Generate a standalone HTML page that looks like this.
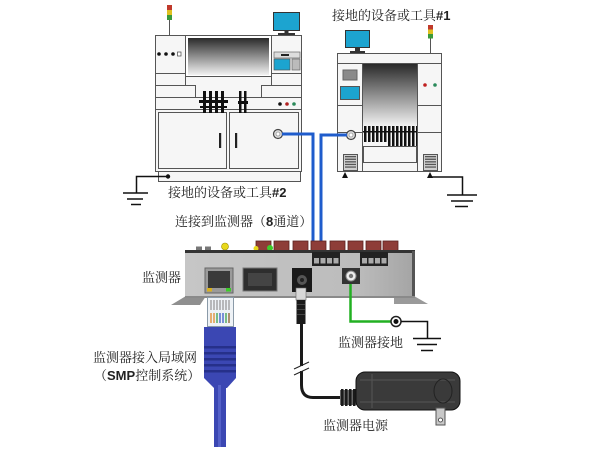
<!DOCTYPE html>
<html><head><meta charset="utf-8"><style>
html,body{margin:0;padding:0;background:#fff;}
svg{display:block;}
text{font-family:"Liberation Serif","Noto Serif CJK SC",serif;font-size:13px;fill:#222;}
.b{font-family:"Liberation Sans",sans-serif;font-weight:bold;}
</style></head><body>
<svg width="600" height="450" viewBox="0 0 600 450" xmlns="http://www.w3.org/2000/svg">
<defs>
<linearGradient id="win" x1="0" y1="0" x2="0" y2="1"><stop offset="0" stop-color="#2a2a2a"/><stop offset="1" stop-color="#f2f2f2"/></linearGradient>
<linearGradient id="bd" x1="0" y1="0" x2="1" y2="0"><stop offset="0" stop-color="#c6c6c6"/><stop offset="0.75" stop-color="#bcbcbc"/><stop offset="1" stop-color="#a4a4a4"/></linearGradient>
<pattern id="noz" width="4" height="10" patternUnits="userSpaceOnUse"><rect x="0" y="0" width="2.5" height="10" fill="#111"/></pattern>
<pattern id="vent" width="4" height="2.6" patternUnits="userSpaceOnUse"><rect width="4" height="1.3" fill="#555"/></pattern>
</defs>

<!-- ============ Machine #2 (left) ============ -->
<g stroke="#555" stroke-width="1" fill="#f6f6f6">
<line x1="169.5" y1="20" x2="169.5" y2="35"/>
<rect x="167" y="5" width="5" height="5" fill="#c0392b" stroke="none"/>
<rect x="167" y="10" width="5" height="5" fill="#e0c020" stroke="none"/>
<rect x="167" y="15" width="5" height="5" fill="#3a9a3a" stroke="none"/>
<rect x="273.5" y="12.5" width="26" height="18" fill="#1ca4d0" stroke="#333"/>
<rect x="284.5" y="31" width="4" height="3" fill="#333" stroke="none"/>
<rect x="278" y="33" width="17" height="2" fill="#333" stroke="none"/>

<rect x="155.5" y="35.5" width="146" height="62"/>
<rect x="155.5" y="35.5" width="30" height="38"/>
<rect x="271.5" y="35.5" width="30" height="38"/>
<rect x="185.5" y="35.5" width="86" height="41" fill="#fff"/>
<rect x="188" y="38" width="81" height="37" fill="url(#win)" stroke="none"/>
<path d="M185.5,76.5 V85.5 H195.5 V97.5 M271.5,76.5 V85.5 H261.5 V97.5" fill="none"/>
<line x1="155.5" y1="85.5" x2="185.5" y2="85.5"/>
<line x1="271.5" y1="85.5" x2="301.5" y2="85.5"/>
<circle cx="159" cy="54" r="1.8" fill="#111" stroke="none"/>
<circle cx="166" cy="54" r="1.8" fill="#111" stroke="none"/>
<circle cx="173" cy="54" r="1.8" fill="#111" stroke="none"/>
<rect x="177.5" y="52" width="3.5" height="4" fill="#fff" stroke="#444" stroke-width="0.7"/>
<rect x="274" y="52" width="26" height="6" fill="#ddd" stroke="#666" stroke-width="0.7"/>
<rect x="281" y="54" width="8" height="2" fill="#222" stroke="none"/>
<rect x="274" y="59" width="16" height="11" fill="#1ca4d0" stroke="#555" stroke-width="0.7"/>
<rect x="292" y="59" width="8" height="11" fill="#bbb" stroke="#666" stroke-width="0.7"/>

<rect x="155.5" y="97.5" width="146" height="12"/>
<circle cx="280" cy="104" r="1.8" fill="#111" stroke="none"/>
<circle cx="287" cy="104" r="1.8" fill="#b02020" stroke="none"/>
<circle cx="294" cy="104" r="1.8" fill="#2a8a5a" stroke="none"/>

<rect x="155.5" y="109.5" width="146" height="62"/>
<rect x="158.5" y="112.5" width="68" height="56"/>
<rect x="229.5" y="112.5" width="69" height="56"/>
<rect x="219" y="133" width="2.2" height="15" fill="#222" stroke="none"/>
<rect x="235" y="133" width="2.2" height="15" fill="#222" stroke="none"/>
<rect x="158.5" y="171.5" width="142" height="10"/>
<circle cx="168" cy="176.5" r="2.2" fill="#111" stroke="none"/>
</g>
<!-- heads -->
<g fill="#111">
<rect x="203" y="91" width="3" height="22"/><rect x="209" y="91" width="3" height="22"/>
<rect x="215" y="91" width="3" height="22"/><rect x="221" y="91" width="3" height="22"/>
<rect x="199" y="100" width="29" height="3"/><rect x="200" y="106" width="27" height="2"/>
<rect x="239" y="91" width="2.5" height="22"/><rect x="244" y="91" width="2.5" height="22"/>
<rect x="238" y="101" width="10" height="3"/>
</g>
<circle cx="278" cy="134" r="4.5" fill="#ddd" stroke="#444" stroke-width="1.2"/>
<circle cx="278" cy="134" r="2" fill="#fff" stroke="#777" stroke-width="0.6"/>
<!-- ground #2 -->
<g stroke="#111" stroke-width="1.5" fill="none">
<path d="M168,176.5 H136.5 V193"/>
<line x1="123" y1="193" x2="148" y2="193"/>
<line x1="127" y1="199" x2="143" y2="199"/>
<line x1="131" y1="204.5" x2="141" y2="204.5"/>
</g>

<!-- ============ Machine #1 (right) ============ -->
<g stroke="#555" stroke-width="1" fill="#f6f6f6">
<line x1="430.5" y1="38" x2="430.5" y2="53"/>
<rect x="428" y="25" width="5" height="4.5" fill="#c0392b" stroke="none"/>
<rect x="428" y="29.5" width="5" height="4.5" fill="#e0c020" stroke="none"/>
<rect x="428" y="34" width="5" height="4.5" fill="#3a9a3a" stroke="none"/>
<rect x="345.5" y="30.5" width="24" height="17" fill="#1ca4d0" stroke="#333"/>
<rect x="355" y="48" width="5" height="3" fill="#333" stroke="none"/>
<rect x="350" y="51" width="15" height="2" fill="#333" stroke="none"/>
<rect x="337.5" y="53.5" width="104" height="118"/>
<line x1="337.5" y1="63.5" x2="441.5" y2="63.5"/>
<line x1="362.5" y1="63.5" x2="362.5" y2="171.5"/>
<line x1="417.5" y1="63.5" x2="417.5" y2="171.5"/>
<rect x="363" y="64" width="54" height="62" fill="url(#win)" stroke="none"/>
<rect x="343" y="70" width="14" height="10" fill="#8a8a8a" stroke="#666"/>
<rect x="340.5" y="86.5" width="19" height="13" fill="#1ca4d0" stroke="#555"/>
<circle cx="425" cy="85" r="1.8" fill="#c02020" stroke="none"/>
<circle cx="435" cy="85" r="1.8" fill="#2a8a5a" stroke="none"/>
<line x1="337.5" y1="105.5" x2="362.5" y2="105.5"/>
<line x1="417.5" y1="105.5" x2="441.5" y2="105.5"/>
<line x1="337.5" y1="132.5" x2="362.5" y2="132.5"/>
<line x1="417.5" y1="132.5" x2="441.5" y2="132.5"/>
<rect x="363.5" y="146.5" width="53" height="16" fill="#f6f6f6"/>
<rect x="343.5" y="154.5" width="14" height="16" fill="#d0d0d0"/>
<rect x="345" y="156" width="11" height="13" fill="url(#vent)" stroke="none"/>
<rect x="423.5" y="154.5" width="14" height="16" fill="#d0d0d0"/>
<rect x="425" y="156" width="11" height="13" fill="url(#vent)" stroke="none"/>
</g>
<rect x="363" y="126" width="54" height="10" fill="url(#noz)"/>
<rect x="363" y="136" width="25" height="6" fill="url(#noz)"/>
<rect x="388" y="136" width="29" height="10" fill="url(#noz)"/>
<rect x="363" y="131" width="54" height="1.5" fill="#111"/>
<path d="M342,178 L345,172 L348,178 Z M427,178 L430,172 L433,178 Z" fill="#111"/>
<circle cx="351" cy="135" r="4.5" fill="#ddd" stroke="#444" stroke-width="1.2"/>
<circle cx="351" cy="135" r="2" fill="#fff" stroke="#777" stroke-width="0.6"/>
<!-- ground #1 -->
<g stroke="#111" stroke-width="1.5" fill="none">
<path d="M430,177 H462.5 V195"/>
<line x1="447" y1="195" x2="477" y2="195"/>
<line x1="451" y1="201" x2="473" y2="201"/>
<line x1="455" y1="206.5" x2="468" y2="206.5"/>
</g>

<!-- blue wires -->
<g fill="none" stroke-linejoin="miter">
<path d="M282,134 H313 V258" stroke="#1f5ccc" stroke-width="3"/>
<path d="M347,135 H321 V258" stroke="#1f5ccc" stroke-width="3"/>
</g>

<!-- ============ Monitor device ============ -->
<polygon points="171,305 186,296 206,296 200,305" fill="#8f8f8f"/>
<polygon points="394,296 414,296 428,304 394,304" fill="#9a9a9a"/>
<rect x="196" y="246.5" width="6" height="4.5" fill="#777"/>
<rect x="205" y="246.5" width="6" height="4.5" fill="#777"/>
<g fill="#8e3d38" stroke="#5a2320" stroke-width="0.8">
<rect x="256" y="241" width="15" height="11"/>
<rect x="274" y="241" width="15" height="11"/>
<rect x="293" y="241" width="15" height="11"/>
<rect x="311" y="241" width="15" height="11"/>
<rect x="330" y="241" width="15" height="11"/>
<rect x="348" y="241" width="15" height="11"/>
<rect x="366" y="241" width="15" height="11"/>
<rect x="383" y="241" width="15" height="11"/>
</g>
<circle cx="225" cy="246.5" r="3.5" fill="#e8d81a" stroke="#998a00" stroke-width="0.6"/>
<circle cx="256" cy="248.5" r="2.5" fill="#e8d81a"/>
<circle cx="270" cy="248" r="3" fill="#3ccc2a"/>
<rect x="185" y="251" width="230" height="46" fill="url(#bd)"/>
<rect x="185" y="250" width="230" height="3" fill="#333"/>
<rect x="412" y="251" width="3" height="46" fill="#555"/>
<rect x="185" y="296" width="230" height="2" fill="#8a8a8a"/>
<!-- terminal blocks -->
<g>
<rect x="312" y="252" width="28" height="14" fill="#222"/>
<rect x="314" y="258" width="5" height="5.5" fill="#aaa"/><rect x="320.5" y="258" width="5" height="5.5" fill="#aaa"/>
<rect x="327" y="258" width="5" height="5.5" fill="#aaa"/><rect x="333.5" y="258" width="5" height="5.5" fill="#aaa"/>
<rect x="360" y="252" width="28" height="14" fill="#222"/>
<rect x="362" y="258" width="5" height="5.5" fill="#aaa"/><rect x="368.5" y="258" width="5" height="5.5" fill="#aaa"/>
<rect x="375" y="258" width="5" height="5.5" fill="#aaa"/><rect x="381.5" y="258" width="5" height="5.5" fill="#aaa"/>
</g>
<!-- ports -->
<rect x="205" y="268" width="28" height="25" fill="#9a9a9a" stroke="#666"/>
<rect x="208" y="271" width="22" height="17" fill="#3a3a3a"/>
<rect x="207" y="288" width="5" height="3.5" fill="#d8b020"/>
<rect x="226" y="288" width="5" height="3.5" fill="#3ccc2a"/>
<rect x="243" y="268" width="34" height="23" fill="#2e2e2e" stroke="#777"/>
<rect x="248" y="273" width="24" height="13" fill="#444"/>
<rect x="292" y="268" width="20" height="24" fill="#1a1a1a"/>
<circle cx="302" cy="280" r="5" fill="#555"/>
<circle cx="302" cy="280" r="2" fill="#222"/>
<rect x="342" y="268" width="18" height="16" fill="#333"/>
<circle cx="351" cy="276" r="5" fill="#eee" stroke="#888"/>
<circle cx="351" cy="276" r="2.2" fill="#777"/>

<!-- ethernet plug & cable -->
<rect x="207.5" y="297.5" width="26" height="29" fill="#eef2f6" stroke="#8a9aa8"/>
<g stroke-width="1.3">
<line x1="211" y1="300" x2="211" y2="310" stroke="#999"/><line x1="214" y1="300" x2="214" y2="310" stroke="#999"/>
<line x1="217" y1="300" x2="217" y2="310" stroke="#999"/><line x1="220" y1="300" x2="220" y2="310" stroke="#999"/>
<line x1="223" y1="300" x2="223" y2="310" stroke="#999"/><line x1="226" y1="300" x2="226" y2="310" stroke="#999"/>
<line x1="229" y1="300" x2="229" y2="310" stroke="#999"/>
<line x1="211" y1="313" x2="211" y2="323" stroke="#e08a2a"/><line x1="214" y1="313" x2="214" y2="323" stroke="#e08a2a"/>
<line x1="217" y1="313" x2="217" y2="323" stroke="#3aa04a"/><line x1="220" y1="313" x2="220" y2="323" stroke="#3a5ac8"/>
<line x1="223" y1="313" x2="223" y2="323" stroke="#3a5ac8"/><line x1="226" y1="313" x2="226" y2="323" stroke="#3aa04a"/>
<line x1="229" y1="313" x2="229" y2="323" stroke="#8a5a2a"/>
</g>
<path d="M204,327 H236 V378 L227,388 H214 L204,378 Z" fill="#3b47b3"/>
<g fill="#26308a">
<rect x="204" y="346" width="32" height="2.5"/><rect x="204" y="352" width="32" height="2.5"/>
<rect x="204" y="358" width="32" height="2.5"/><rect x="204" y="364" width="32" height="2.5"/>
<rect x="204" y="370" width="32" height="2.5"/>
</g>
<rect x="214" y="385" width="12" height="62" fill="#3b47b3"/>
<rect x="218" y="385" width="3" height="62" fill="#5561c8"/>

<!-- power cable -->
<rect x="296" y="288" width="10" height="12" fill="#d8d8d8" stroke="#666" stroke-width="0.6"/>
<rect x="296.5" y="300" width="9" height="24" fill="#1a1a1a"/>
<g fill="#444"><rect x="297" y="304" width="8" height="1"/><rect x="297" y="309" width="8" height="1"/><rect x="297" y="314" width="8" height="1"/></g>
<path d="M301.5,324 V385 Q301.5,397.5 313,397.5 H342" fill="none" stroke="#1a1a1a" stroke-width="3"/>
<rect x="296" y="366" width="12" height="5" fill="#fff"/>
<line x1="294" y1="369" x2="309" y2="362" stroke="#222" stroke-width="1"/>
<line x1="294" y1="375" x2="309" y2="368" stroke="#222" stroke-width="1"/>
<rect x="340" y="390" width="18" height="15" fill="#666"/>
<g fill="#1a1a1a"><rect x="341" y="389" width="2.5" height="17"/><rect x="345" y="389" width="2.5" height="17"/><rect x="349" y="389" width="2.5" height="17"/><rect x="353" y="389" width="2.5" height="17"/></g>
<rect x="356" y="372" width="104" height="38" rx="9" fill="#3a3a3a" stroke="#111"/>
<path d="M360,380 H455 M360,402 H455 M372,374 V408" stroke="#555" fill="none"/>
<ellipse cx="443" cy="391" rx="9" ry="12" fill="none" stroke="#222"/>
<rect x="436" y="408" width="9" height="17" fill="#c8c8c8" stroke="#555"/>
<circle cx="440.5" cy="420" r="2" fill="#fff" stroke="#333" stroke-width="0.8"/>

<!-- monitor ground -->
<path d="M350.5,284 V321.5 H391" fill="none" stroke="#22b022" stroke-width="2.5"/>
<circle cx="396" cy="321.5" r="5" fill="#fff" stroke="#222" stroke-width="1.5"/>
<circle cx="396" cy="321.5" r="2.5" fill="#111"/>
<g stroke="#111" stroke-width="1.5" fill="none">
<path d="M401,321.5 H427.5 V338"/>
<line x1="413" y1="338.5" x2="441" y2="338.5"/>
<line x1="417" y1="344.5" x2="437" y2="344.5"/>
<line x1="421" y1="350.5" x2="433" y2="350.5"/>
</g>

<!-- labels -->
<text x="332" y="20">接地的设备或工具<tspan class="b">#1</tspan></text>
<text x="168" y="197">接地的设备或工具<tspan class="b">#2</tspan></text>
<text x="175" y="226">连接到监测器（<tspan class="b">8</tspan>通道）</text>
<text x="142" y="282">监测器</text>
<text x="93" y="362">监测器接入局域网</text>
<text x="94" y="380">（<tspan class="b">SMP</tspan>控制系统）</text>
<text x="338" y="347">监测器接地</text>
<text x="323" y="430">监测器电源</text>
</svg>
</body></html>
